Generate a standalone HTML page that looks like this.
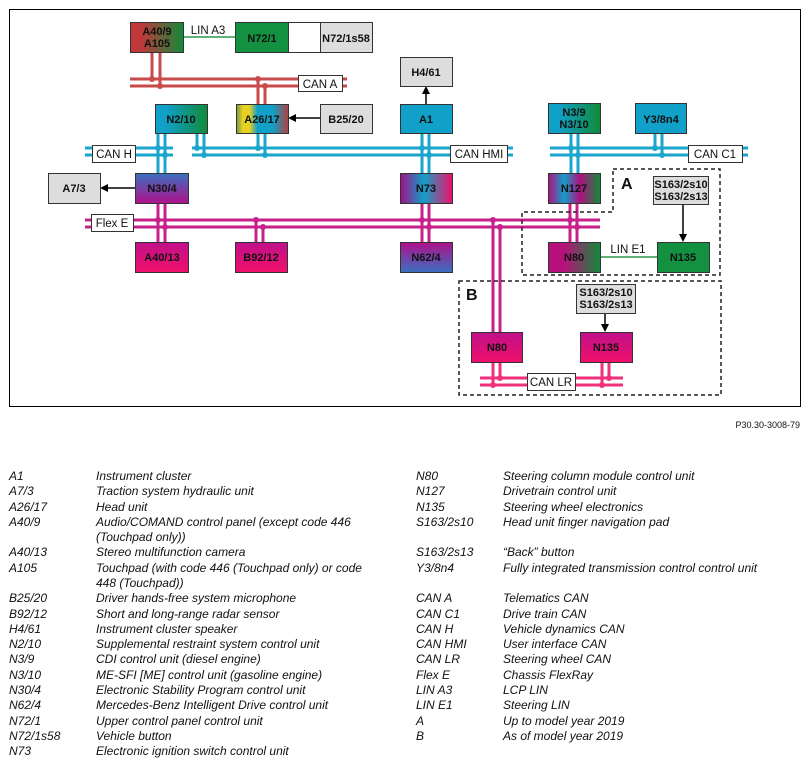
<!DOCTYPE html>
<html><head><meta charset="utf-8"><style>
body{margin:0;background:#fff;width:811px;height:769px;position:relative;overflow:hidden;font-family:"Liberation Sans",Arial,sans-serif}
svg{position:absolute;left:0;top:0}
.l{position:absolute;font-style:italic;font-size:12px;color:#111;line-height:15.28px;white-space:nowrap}
</style></head><body>
<svg width="811" height="430" viewBox="0 0 811 430">
<defs>
<linearGradient id="rg" x1="0" x2="1"><stop offset="0.2" stop-color="#c0383a"/><stop offset="1" stop-color="#118a3a"/></linearGradient>
<linearGradient id="bg" x1="0" x2="1"><stop offset="0.2" stop-color="#10a0c8"/><stop offset="1" stop-color="#118a3a"/></linearGradient>
<linearGradient id="ag" x1="0" x2="1"><stop offset="0" stop-color="#6a9a50"/><stop offset="0.12" stop-color="#e8d020"/><stop offset="0.25" stop-color="#e8d020"/><stop offset="0.4" stop-color="#10a0c8"/><stop offset="0.7" stop-color="#10a0c8"/><stop offset="1" stop-color="#b04040"/></linearGradient>
<linearGradient id="ng" x1="0" x2="0" y1="0" y2="1"><stop offset="0" stop-color="#3a70c0"/><stop offset="1" stop-color="#b0108a"/></linearGradient>
<linearGradient id="n73" x1="0" x2="1"><stop offset="0" stop-color="#a0108a"/><stop offset="0.45" stop-color="#10a0c8"/><stop offset="1" stop-color="#f0106a"/></linearGradient>
<linearGradient id="n127" x1="0" x2="1"><stop offset="0" stop-color="#b01080"/><stop offset="0.3" stop-color="#10a0c8"/><stop offset="0.6" stop-color="#b01080"/><stop offset="1" stop-color="#118a3a"/></linearGradient>
<linearGradient id="n80" x1="0" x2="1"><stop offset="0.3" stop-color="#b8107a"/><stop offset="1" stop-color="#118a3a"/></linearGradient>
<linearGradient id="pk" x1="0" x2="0" y1="0" y2="1"><stop offset="0" stop-color="#c0108a"/><stop offset="1" stop-color="#f0106a"/></linearGradient>
<linearGradient id="n62" x1="0" x2="0" y1="0" y2="1"><stop offset="0" stop-color="#b0108a"/><stop offset="1" stop-color="#3a70c0"/></linearGradient>
</defs>
<rect x="9.5" y="9.5" width="791" height="397" fill="none" stroke="#000" stroke-width="1"/>
<g stroke-width="3" fill="none">
<g stroke="#c94a4a"><line x1="130" y1="79" x2="347" y2="79"/><line x1="130" y1="86" x2="347" y2="86"/>
<line x1="152" y1="52" x2="152" y2="79"/><line x1="160" y1="52" x2="160" y2="86"/>
<line x1="258" y1="79" x2="258" y2="104"/><line x1="265" y1="86" x2="265" y2="104"/></g>
<g stroke="#1aa6cc"><line x1="85" y1="148" x2="173" y2="148"/><line x1="85" y1="155" x2="173" y2="155"/>
<line x1="192" y1="148" x2="513" y2="148"/><line x1="192" y1="155" x2="513" y2="155"/>
<line x1="550" y1="148" x2="748" y2="148"/><line x1="550" y1="155" x2="748" y2="155"/>
<line x1="158" y1="133" x2="158" y2="173"/><line x1="165" y1="133" x2="165" y2="173"/>
<line x1="197" y1="133" x2="197" y2="148"/><line x1="204" y1="133" x2="204" y2="155"/>
<line x1="258" y1="133" x2="258" y2="148"/><line x1="265" y1="133" x2="265" y2="155"/>
<line x1="422" y1="133" x2="422" y2="173"/><line x1="429" y1="133" x2="429" y2="173"/>
<line x1="571" y1="133" x2="571" y2="173"/><line x1="578" y1="133" x2="578" y2="173"/>
<line x1="655" y1="133" x2="655" y2="148"/><line x1="662" y1="133" x2="662" y2="155"/></g>
<g stroke="#c8208a"><line x1="85" y1="220" x2="600" y2="220"/><line x1="85" y1="227" x2="600" y2="227"/>
<line x1="158" y1="203" x2="158" y2="242"/><line x1="165" y1="203" x2="165" y2="242"/>
<line x1="256" y1="220" x2="256" y2="242"/><line x1="263" y1="227" x2="263" y2="242"/>
<line x1="422" y1="203" x2="422" y2="242"/><line x1="429" y1="203" x2="429" y2="242"/>
<line x1="570" y1="203" x2="570" y2="242"/><line x1="577" y1="203" x2="577" y2="242"/>
<line x1="493" y1="220" x2="493" y2="332"/><line x1="500" y1="227" x2="500" y2="332"/></g>
<g stroke="#f0307a"><line x1="480" y1="378" x2="623" y2="378"/><line x1="480" y1="385" x2="623" y2="385"/>
<line x1="493" y1="362" x2="493" y2="385"/><line x1="500" y1="362" x2="500" y2="378"/>
<line x1="602" y1="362" x2="602" y2="385"/><line x1="609" y1="362" x2="609" y2="378"/></g>
</g>
<g fill="#c94a4a"><circle cx="152" cy="79" r="3"/><circle cx="160" cy="86" r="3"/><circle cx="258" cy="79" r="3"/><circle cx="265" cy="86" r="3"/></g>
<g fill="#1aa6cc"><circle cx="158" cy="148" r="3"/><circle cx="165" cy="155" r="3"/><circle cx="197" cy="148" r="3"/><circle cx="204" cy="155" r="3"/><circle cx="258" cy="148" r="3"/><circle cx="265" cy="155" r="3"/><circle cx="422" cy="148" r="3"/><circle cx="429" cy="155" r="3"/><circle cx="571" cy="148" r="3"/><circle cx="578" cy="155" r="3"/><circle cx="655" cy="148" r="3"/><circle cx="662" cy="155" r="3"/></g>
<g fill="#c8208a"><circle cx="158" cy="220" r="3"/><circle cx="165" cy="227" r="3"/><circle cx="256" cy="220" r="3"/><circle cx="263" cy="227" r="3"/><circle cx="422" cy="220" r="3"/><circle cx="429" cy="227" r="3"/><circle cx="570" cy="220" r="3"/><circle cx="577" cy="227" r="3"/><circle cx="493" cy="220" r="3"/><circle cx="500" cy="227" r="3"/></g>
<g fill="#f0307a"><circle cx="493" cy="385" r="3"/><circle cx="500" cy="378" r="3"/><circle cx="602" cy="385" r="3"/><circle cx="609" cy="378" r="3"/></g>
<line x1="183" y1="37" x2="235" y2="37" stroke="#2a9a4a" stroke-width="1.5"/>
<line x1="600" y1="257" x2="657" y2="257" stroke="#2a9a4a" stroke-width="1.5"/>
<g fill="none" stroke="#222" stroke-width="1.5" stroke-dasharray="4,3">
<path d="M613 169 H720 V275 H522 V212 H613 Z"/>
<rect x="459" y="281" width="262" height="114"/></g>
<g stroke="#000" stroke-width="1.5"><line x1="320" y1="37" x2="294" y2="37"/><line x1="320" y1="118" x2="294" y2="118"/><line x1="426" y1="104" x2="426" y2="92"/><line x1="135" y1="188" x2="106" y2="188"/><line x1="683" y1="204" x2="683" y2="236"/><line x1="605" y1="313" x2="605" y2="326"/></g>
<g fill="#000"><path d="M288 37 l8 -4 v8z"/><path d="M288 118 l8 -4 v8z"/><path d="M426 86 l-4 8 h8z"/><path d="M100 188 l8 -4 v8z"/><path d="M683 242 l-4 -8 h8z"/><path d="M605 332 l-4 -8 h8z"/></g>
<g stroke="#333" stroke-width="1">
<rect x="130.5" y="22.5" width="53" height="30" fill="url(#rg)"/>
<rect x="235.5" y="22.5" width="53" height="30" fill="#139040"/>
<rect x="288.5" y="22.5" width="32" height="30" fill="#fff"/>
<rect x="320.5" y="22.5" width="52" height="30" fill="#ddd"/>
<rect x="400.5" y="57.5" width="52" height="29" fill="#ddd"/>
<rect x="155.5" y="104.5" width="52" height="29" fill="url(#bg)"/>
<rect x="236.5" y="104.5" width="52" height="29" fill="url(#ag)"/>
<rect x="320.5" y="104.5" width="52" height="29" fill="#ddd"/>
<rect x="400.5" y="104.5" width="52" height="29" fill="#10a0c8"/>
<rect x="548.5" y="103.5" width="52" height="30" fill="url(#bg)"/>
<rect x="635.5" y="103.5" width="51" height="30" fill="#10a0c8"/>
<rect x="48.5" y="173.5" width="52" height="30" fill="#ddd"/>
<rect x="135.5" y="173.5" width="53" height="30" fill="url(#ng)"/>
<rect x="400.5" y="173.5" width="52" height="30" fill="url(#n73)"/>
<rect x="548.5" y="173.5" width="52" height="30" fill="url(#n127)"/>
<rect x="653.5" y="176.5" width="55" height="28" fill="#ddd"/>
<rect x="135.5" y="242.5" width="53" height="30" fill="url(#pk)"/>
<rect x="235.5" y="242.5" width="52" height="30" fill="url(#pk)"/>
<rect x="400.5" y="242.5" width="52" height="30" fill="url(#n62)"/>
<rect x="548.5" y="242.5" width="52" height="30" fill="url(#n80)"/>
<rect x="657.5" y="242.5" width="52" height="30" fill="#139040"/>
<rect x="576.5" y="284.5" width="59" height="29" fill="#ddd"/>
<rect x="471.5" y="332.5" width="51" height="30" fill="url(#pk)"/>
<rect x="580.5" y="332.5" width="52" height="30" fill="url(#pk)"/>
<rect x="298.5" y="75.5" width="44" height="16" fill="#fff"/>
<rect x="92.5" y="145.5" width="43" height="17" fill="#fff"/>
<rect x="450.5" y="145.5" width="57" height="17" fill="#fff"/>
<rect x="688.5" y="145.5" width="54" height="17" fill="#fff"/>
<rect x="91.5" y="214.5" width="42" height="17" fill="#fff"/>
<rect x="527.5" y="373.5" width="48" height="17" fill="#fff"/>
</g>
<g font-family="Liberation Sans,Arial,sans-serif" font-weight="bold" font-size="11" text-anchor="middle" fill="#111">
<text x="157" y="35">A40/9</text><text x="157" y="47">A105</text>
<text x="262" y="42">N72/1</text><text x="346" y="42">N72/1s58</text>
<text x="426" y="76">H4/61</text>
<text x="181" y="123">N2/10</text><text x="262" y="123">A26/17</text><text x="346" y="123">B25/20</text><text x="426" y="123">A1</text>
<text x="574" y="116">N3/9</text><text x="574" y="128">N3/10</text><text x="661" y="123">Y3/8n4</text>
<text x="74" y="192">A7/3</text><text x="162" y="192">N30/4</text><text x="426" y="192">N73</text><text x="574" y="192">N127</text>
<text x="681" y="188">S163/2s10</text><text x="681" y="200">S163/2s13</text>
<text x="162" y="261">A40/13</text><text x="261" y="261">B92/12</text><text x="426" y="261">N62/4</text><text x="574" y="261">N80</text><text x="683" y="261">N135</text>
<text x="606" y="296">S163/2s10</text><text x="606" y="308">S163/2s13</text>
<text x="497" y="351">N80</text><text x="606" y="351">N135</text>
</g>
<g font-family="Liberation Sans,Arial,sans-serif" font-weight="bold" font-size="16" fill="#111"><text x="621" y="189">A</text><text x="466" y="300">B</text></g>
<g font-family="Liberation Sans,Arial,sans-serif" font-size="11.5" fill="#111" text-anchor="middle">
<text x="208" y="34">LIN A3</text><text x="320" y="88">CAN A</text><text x="114" y="158">CAN H</text><text x="479" y="158">CAN HMI</text><text x="715" y="158">CAN C1</text><text x="112" y="227">Flex E</text><text x="628" y="253">LIN E1</text><text x="551" y="386">CAN LR</text>
</g>
<text x="800" y="428" font-family="Liberation Sans,Arial,sans-serif" font-size="9" text-anchor="end" fill="#111">P30.30-3008-79</text>
</svg>
<div class="l" style="left:9px;top:469px">A1<br>A7/3<br>A26/17<br>A40/9<br><br>A40/13<br>A105<br><br>B25/20<br>B92/12<br>H4/61<br>N2/10<br>N3/9<br>N3/10<br>N30/4<br>N62/4<br>N72/1<br>N72/1s58<br>N73</div>
<div class="l" style="left:96px;top:469px">Instrument cluster<br>Traction system hydraulic unit<br>Head unit<br>Audio/COMAND control panel (except code 446<br>(Touchpad only))<br>Stereo multifunction camera<br>Touchpad (with code 446 (Touchpad only) or code<br>448 (Touchpad))<br>Driver hands-free system microphone<br>Short and long-range radar sensor<br>Instrument cluster speaker<br>Supplemental restraint system control unit<br>CDI control unit (diesel engine)<br>ME-SFI [ME] control unit (gasoline engine)<br>Electronic Stability Program control unit<br>Mercedes-Benz Intelligent Drive control unit<br>Upper control panel control unit<br>Vehicle button<br>Electronic ignition switch control unit</div>
<div class="l" style="left:416px;top:469px">N80<br>N127<br>N135<br>S163/2s10<br><br>S163/2s13<br>Y3/8n4<br><br>CAN A<br>CAN C1<br>CAN H<br>CAN HMI<br>CAN LR<br>Flex E<br>LIN A3<br>LIN E1<br>A<br>B</div>
<div class="l" style="left:503px;top:469px">Steering column module control unit<br>Drivetrain control unit<br>Steering wheel electronics<br>Head unit finger navigation pad<br><br>“Back” button<br>Fully integrated transmission control control unit<br><br>Telematics CAN<br>Drive train CAN<br>Vehicle dynamics CAN<br>User interface CAN<br>Steering wheel CAN<br>Chassis FlexRay<br>LCP LIN<br>Steering LIN<br>Up to model year 2019<br>As of model year 2019</div>
</body></html>
